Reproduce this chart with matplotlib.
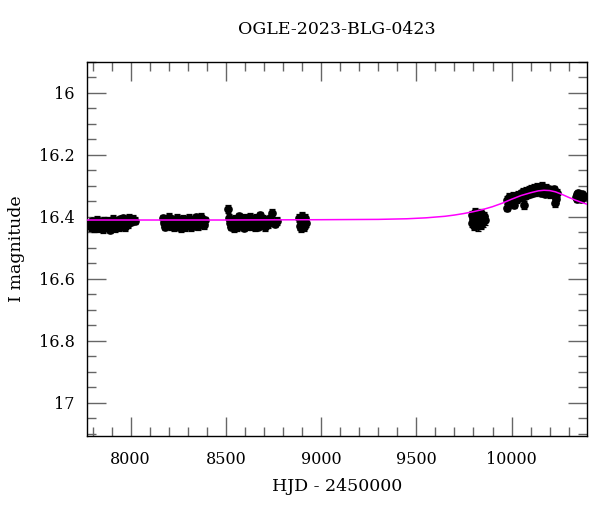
import numpy as np
import matplotlib
matplotlib.use("Agg")
import matplotlib.pyplot as plt
from matplotlib.ticker import MultipleLocator

# photometry, one list per observing season (HJD - 2450000, I mag)
s1_t = [7786, 7792, 7797, 7803, 7808, 7814, 7820, 7825, 7831, 7836,
        7842, 7848, 7853, 7859, 7864, 7870, 7876, 7881, 7887, 7892,
        7898, 7904, 7909, 7915, 7920, 7926, 7932, 7937, 7943, 7948,
        7954, 7960, 7966, 7972, 7978, 7985, 7992, 8000, 8010, 8024]
s1_m = [16.424, 16.434, 16.414, 16.428, 16.437, 16.417, 16.430, 16.409, 16.425, 16.436,
        16.415, 16.429, 16.440, 16.412, 16.426, 16.418, 16.434, 16.413, 16.428, 16.441,
        16.416, 16.431, 16.407, 16.424, 16.436, 16.412, 16.427, 16.432, 16.408, 16.421,
        16.429, 16.405, 16.418, 16.432, 16.410, 16.423, 16.402, 16.415, 16.407, 16.412]

s2_t = [8172, 8177, 8183, 8188, 8194, 8199, 8205, 8210, 8216, 8221,
        8227, 8232, 8238, 8243, 8249, 8254, 8260, 8265, 8271, 8276,
        8282, 8287, 8293, 8298, 8304, 8309, 8315, 8320, 8326, 8331,
        8337, 8342, 8348, 8353, 8359, 8364, 8370, 8376, 8383, 8392]
s2_m = [16.405, 16.420, 16.431, 16.409, 16.423, 16.399, 16.415, 16.429, 16.408, 16.421,
        16.434, 16.411, 16.425, 16.402, 16.417, 16.431, 16.410, 16.437, 16.422, 16.406,
        16.418, 16.432, 16.412, 16.426, 16.403, 16.419, 16.433, 16.409, 16.423, 16.413,
        16.428, 16.401, 16.417, 16.430, 16.408, 16.422, 16.399, 16.415, 16.427, 16.411]

s3_t = [8512, 8517, 8523, 8528, 8534, 8539, 8545, 8550, 8556, 8561,
        8567, 8572, 8578, 8583, 8589, 8594, 8600, 8605, 8611, 8616,
        8622, 8627, 8633, 8638, 8644, 8649, 8655, 8660, 8666, 8671,
        8677, 8682, 8688, 8694, 8700, 8707, 8714, 8722, 8731, 8742,
        8756, 8768]
s3_m = [16.375, 16.402, 16.420, 16.431, 16.410, 16.424, 16.437, 16.406, 16.421, 16.433,
        16.398, 16.415, 16.428, 16.408, 16.422, 16.435, 16.403, 16.418, 16.430, 16.410,
        16.424, 16.400, 16.415, 16.429, 16.408, 16.421, 16.434, 16.404, 16.419, 16.431,
        16.395, 16.413, 16.427, 16.406, 16.420, 16.432, 16.410, 16.423, 16.405, 16.388,
        16.422, 16.413]

s4_t = [8884, 8888, 8892, 8896, 8900, 8904, 8908, 8912, 8916, 8920]
s4_m = [16.405, 16.430, 16.415, 16.436, 16.398, 16.422, 16.410, 16.433, 16.402, 16.420]

s5_t = [9790, 9794, 9798, 9802, 9806, 9810, 9814, 9818, 9822, 9826,
        9830, 9834, 9838, 9842, 9846, 9850, 9854, 9858]
s5_m = [16.395, 16.420, 16.405, 16.428, 16.385, 16.411, 16.422, 16.400, 16.430, 16.392,
        16.413, 16.403, 16.425, 16.388, 16.409, 16.418, 16.398, 16.411]

s6_t = [9978, 9985, 9992, 9999, 10006, 10013, 10020, 10027, 10034, 10041,
        10048, 10055, 10062, 10069, 10076, 10083, 10090, 10097, 10104, 10111,
        10118, 10125, 10132, 10139, 10146, 10153, 10160, 10167, 10174, 10181,
        10188, 10195, 10202, 10209, 10216, 10223, 10230, 10237,
        9976, 10012, 10066, 10226, 10232]
s6_m = [16.346, 16.336, 16.351, 16.339, 16.331, 16.347, 16.334, 16.342, 16.328, 16.338,
        16.324, 16.335, 16.320, 16.331, 16.316, 16.328, 16.313, 16.325, 16.310, 16.322,
        16.306, 16.320, 16.303, 16.317, 16.309, 16.322, 16.299, 16.315, 16.325, 16.307,
        16.320, 16.311, 16.327, 16.314, 16.322, 16.311, 16.327, 16.323,
        16.370, 16.360, 16.362, 16.355, 16.342]

s7_t = [10336, 10341, 10346, 10351, 10356, 10361, 10366, 10371, 10376, 10381]
s7_m = [16.335, 16.327, 16.341, 16.324, 16.338, 16.330, 16.343, 16.326, 16.336, 16.332]

season_err = [0.012, 0.012, 0.012, 0.013, 0.014, 0.012, 0.010]

# model light curve
model_t = [7770, 8500, 9000, 9300, 9450, 9550, 9650, 9700, 9750, 9800,
           9850, 9900, 9950, 10000, 10050, 10100, 10140, 10170, 10200, 10230,
           10260, 10300, 10340, 10400]
model_m = [16.410, 16.410, 16.409, 16.408, 16.406, 16.403, 16.398, 16.394, 16.389, 16.383,
           16.376, 16.367, 16.356, 16.343, 16.331, 16.322, 16.316, 16.314, 16.315, 16.319,
           16.326, 16.337, 16.347, 16.360]

plt.rcParams['font.family'] = ['DejaVu Serif']

fig = plt.figure(figsize=(6, 5.12), dpi=100)
ax = fig.add_axes([0.145, 0.1484, 0.833, 0.7306])

seasons = [(s1_t, s1_m), (s2_t, s2_m), (s3_t, s3_m), (s4_t, s4_m),
           (s5_t, s5_m), (s6_t, s6_m), (s7_t, s7_m)]
for (t, m), e in zip(seasons, season_err):
  ax.errorbar(t, m, yerr=e, fmt='o', color='black', ms=5.2, elinewidth=0.9,
              capsize=2.5, capthick=0.9, zorder=2)

ax.plot(model_t, model_m, '-', color='#ff00ff', lw=1.1, zorder=3)

ax.set_xlim(7771, 10395)
ax.set_ylim(17.107, 15.9)

ax.xaxis.set_major_locator(MultipleLocator(500))
ax.xaxis.set_minor_locator(MultipleLocator(100))
ax.yaxis.set_major_locator(MultipleLocator(0.2))
ax.yaxis.set_minor_locator(MultipleLocator(0.05))
ax.yaxis.set_major_formatter(plt.FuncFormatter(lambda v, p: ('%.1f' % v).rstrip('0').rstrip('.')))

ax.tick_params(which='both', direction='in', top=True, right=True, color='#666666',
               width=1.0, labelsize=11.5)
ax.tick_params(axis='x', pad=11)
ax.tick_params(axis='y', pad=9)
ax.tick_params(which='major', length=13.5)
ax.tick_params(which='minor', length=6.5)
for sp in ax.spines.values():
  sp.set_linewidth(1.0)
  sp.set_color('black')

ax.set_xlabel('HJD - 2450000', fontsize=12.5, labelpad=7)
ax.set_ylabel('I magnitude', fontsize=12.5, labelpad=10)
ax.text(0.5, 1.065, 'OGLE-2023-BLG-0423', transform=ax.transAxes, ha='center',
        va='bottom', fontsize=12.5)

plt.savefig('out.png', dpi=100)
